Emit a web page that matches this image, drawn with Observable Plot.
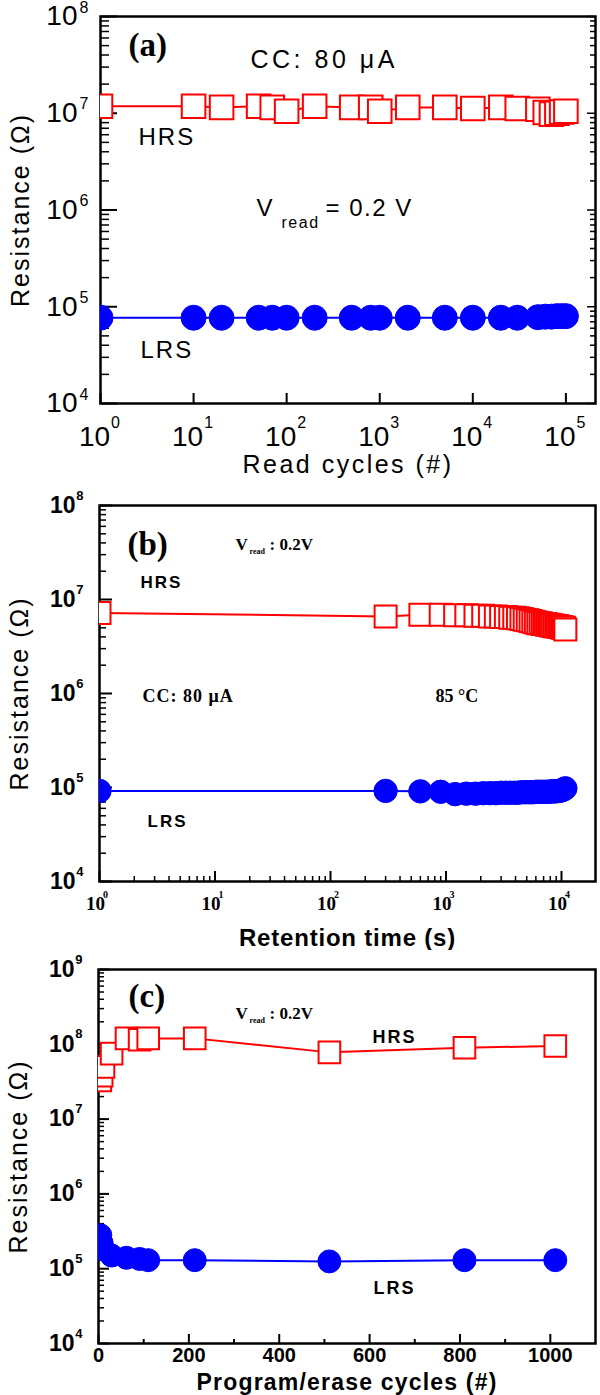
<!DOCTYPE html>
<html>
<head>
<meta charset="utf-8">
<script src="https://cdn.jsdelivr.net/npm/d3@7"></script>
<script src="https://cdn.jsdelivr.net/npm/@observablehq/plot@0.6"></script>
<style>
  html, body { margin: 0; padding: 0; background: #fff; }
  #chart { width: 600px; height: 1395px; overflow: hidden; }
  #chart svg { display: block; }
</style>
</head>
<body>
<div id="chart"></div>
<script>
// ---------------- data ----------------
// (a) read disturb, CC 80 µA, Vread 0.2 V
const readCycles = [1, 10, 20, 50, 70, 100, 200, 500, 800, 1000, 2000, 5000, 10000, 20000, 30000, 50000, 60000, 70000, 80000, 90000, 100000];
const readHRS = [1.18e7, 1.18e7, 1.15e7, 1.18e7, 1.15e7, 1.05e7, 1.18e7, 1.15e7, 1.15e7, 1.05e7, 1.15e7, 1.15e7, 1.12e7, 1.15e7, 1.12e7, 1.1e7, 1.02e7, 9.8e6, 1.0e7, 1.03e7, 1.05e7];
const readLRS = [7.7e4, 7.7e4, 7.7e4, 7.7e4, 7.7e4, 7.7e4, 7.7e4, 7.7e4, 7.7e4, 7.7e4, 7.7e4, 7.7e4, 7.7e4, 7.7e4, 7.7e4, 7.8e4, 7.9e4, 7.9e4, 8.0e4, 8.0e4, 8.0e4];

// (b) retention at 85 °C
const retentionTime = [1, 300, 600, 900, 1200, 1500, 1800, 2100, 2400, 2700, 3000, 3300, 3600, 3900, 4200, 4500, 4800, 5100, 5400, 5700, 6000, 6300, 6600, 6900, 7200, 7500, 7800, 8100, 8400, 8700, 9000, 9300, 9600, 9900, 10200, 10500, 10800];
const retentionHRS = [7.2e6, 6.6e6, 6.9e6, 6.9e6, 6.8e6, 6.8e6, 6.7e6, 6.7e6, 6.6e6, 6.6e6, 6.5e6, 6.5e6, 6.4e6, 6.4e6, 6.3e6, 6.2e6, 6.1e6, 6.0e6, 5.9e6, 5.8e6, 5.7e6, 5.6e6, 5.6e6, 5.5e6, 5.5e6, 5.4e6, 5.4e6, 5.3e6, 5.3e6, 5.2e6, 5.2e6, 5.2e6, 5.1e6, 5.1e6, 5.0e6, 5.0e6, 4.8e6];
const retentionLRS = [9.2e4, 9.2e4, 9.1e4, 9.0e4, 8.5e4, 8.6e4, 8.6e4, 8.7e4, 8.7e4, 8.7e4, 8.8e4, 8.8e4, 8.8e4, 8.8e4, 8.8e4, 8.9e4, 8.9e4, 8.9e4, 8.9e4, 8.9e4, 9.0e4, 9.0e4, 9.0e4, 9.0e4, 9.0e4, 9.0e4, 9.0e4, 9.1e4, 9.1e4, 9.1e4, 9.1e4, 9.2e4, 9.2e4, 9.3e4, 9.4e4, 9.6e4, 9.8e4];

// (c) program/erase endurance
const peCycles = [4, 7, 11, 29, 62, 91, 110, 213, 511, 810, 1011];
const peHRS = [3.3e7, 3.8e7, 5.0e7, 7.5e7, 1.2e8, 1.15e8, 1.2e8, 1.2e8, 7.8e7, 9.0e7, 9.5e7];
const peLRS = [2.8e5, 2.2e5, 1.8e5, 1.5e5, 1.4e5, 1.35e5, 1.3e5, 1.3e5, 1.25e5, 1.3e5, 1.3e5];

// tick labels
const decadesA = [1e4, 1e5, 1e6, 1e7, 1e8];
const readTicks = [1, 10, 100, 1000, 10000, 100000];
const decadesB = [1e4, 1e5, 1e6, 1e7, 1e8];
const retentionTicks = [1, 10, 100, 1000, 10000];
const decadesC = [1e4, 1e5, 1e6, 1e7, 1e8, 1e9];
const peTicks = [0, 200, 400, 600, 800, 1000];
const peMinorTicks = [100, 300, 500, 700, 900];

// ---------------- helpers ----------------
const RED = "#ff0000", BLUE = "#0000ff";
const SANS = "'Liberation Sans', Arial, sans-serif";
const SERIF = "'Liberation Serif', 'Times New Roman', serif";

function minorsOf(decades) {
  const out = [];
  for (let i = 0; i < decades.length - 1; i++) for (let k = 2; k <= 9; k++) out.push(decades[i] * k);
  return out;
}
function spaced(v) {
  return {render(index, scales, values, dims, ctx, next) {
    const g = next(index, scales, values, dims, ctx);
    if (g) g.setAttribute("letter-spacing", v);
    return g;
  }};
}
const rows = (xs, ys) => xs.map((x, i) => ({x, y: ys[i]}));
const expo = d => String(Math.round(Math.log10(d)));
const blank = () => "";

// inward tick marks: the tick points the other way from the side it sits on
const inTicksLeft = (ticks, size, sw) =>
  Plot.axisY({ticks, anchor: "right", frameAnchor: "left", tickSize: size, strokeWidth: sw, tickFormat: blank, label: null});
const inTicksRight = (ticks, size, sw) =>
  Plot.axisY({ticks, anchor: "left", frameAnchor: "right", tickSize: size, strokeWidth: sw, tickFormat: blank, label: null});
const inTicksBottom = (ticks, size, sw) =>
  Plot.axisX({ticks, anchor: "top", frameAnchor: "bottom", tickSize: size, strokeWidth: sw, tickFormat: blank, label: null});

function series(data, color, symbol, r) {
  return [
    Plot.line(data, {x: "x", y: "y", stroke: color, strokeWidth: 2, clip: true}),
    symbol === "square"
      ? Plot.dot(data, {x: "x", y: "y", symbol: "square", r, stroke: color, strokeWidth: 2, fill: "white", clip: true})
      : Plot.dot(data, {x: "x", y: "y", symbol: "circle", r, fill: color, stroke: color, strokeWidth: 1, clip: true})
  ];
}
function yDecadeAxis(decades, o) {
  return [
    inTicksLeft(minorsOf(decades), o.minor, 1.5),
    inTicksLeft(decades, o.major, 2),
    Plot.axisY({ticks: decades, anchor: "left", tickSize: 0, tickPadding: o.pad, tickFormat: () => "10",
      fontSize: o.size, fontWeight: o.weight, fontFamily: o.family, label: null}),
    Plot.axisY({ticks: decades, anchor: "left", tickSize: 0, tickPadding: o.epad, tickFormat: expo, dy: o.edy,
      fontSize: o.esize, fontWeight: o.weight, fontFamily: o.family, label: null})
  ];
}
function xDecadeLabels(ticks, o) {
  return [
    Plot.axisX({ticks, anchor: "bottom", tickSize: 0, tickPadding: o.pad, tickFormat: () => "10", dx: o.dx,
      fontSize: o.size, fontWeight: o.weight, fontFamily: o.family, label: null}),
    Plot.axisX({ticks, anchor: "bottom", tickSize: 0, tickPadding: o.epad, tickFormat: expo, dx: o.edx,
      fontSize: o.esize, fontWeight: o.weight, fontFamily: o.family, label: null})
  ];
}
function note(str, o) {
  return Plot.text([str], {frameAnchor: "top-left", textAnchor: "start", lineAnchor: "middle", fill: "black", ...o});
}
function xTitle(str, o) {
  return Plot.text([str], {frameAnchor: "bottom", textAnchor: "middle", lineAnchor: "middle", fill: "black", ...o});
}
function yTitle() {
  return Plot.text(["Resistance (Ω)"], {frameAnchor: "left", textAnchor: "middle", lineAnchor: "middle", dx: -80, rotate: -90,
    fontSize: 25, fontFamily: SANS, fill: "black", ...spaced(2)});
}

// ---------------- panel (a) ----------------
const plotA = Plot.plot({
  width: 600, height: 480,
  marginTop: 16, marginBottom: 77, marginLeft: 100, marginRight: 5,
  x: {type: "log", domain: [1, 2.08e5]},
  y: {type: "log", domain: [1e4, 1e8]},
  style: {fontFamily: SANS, background: "white", color: "black"},
  marks: [
    ...yDecadeAxis(decadesA, {minor: 8, major: 16, pad: 23, epad: 12, edy: -9, size: 28, esize: 16, weight: "normal", family: SANS}),
    inTicksRight(minorsOf(decadesA), 5, 1.5),
    inTicksRight(decadesA, 8, 1.5),
    inTicksBottom(readTicks, 11, 2),
    ...xDecadeLabels(readTicks, {pad: 23, epad: 13, dx: -6, edx: 15, size: 28, esize: 16, weight: "normal", family: SANS}),
    Plot.frame({stroke: "black", strokeWidth: 2.5}),
    ...series(rows(readCycles, readHRS), RED, "square", 13.3),
    ...series(rows(readCycles, readLRS), BLUE, "circle", 12.5),
    note("(a)", {dx: 28, dy: 29, fontSize: 33, fontWeight: "bold", fontFamily: SERIF}),
    note("CC: 80 μA", {dx: 150, dy: 43, fontSize: 25, fontFamily: SANS, ...spaced(3.5)}),
    note("HRS", {dx: 38, dy: 121, fontSize: 24, fontFamily: SANS, ...spaced(2)}),
    note("V", {dx: 156, dy: 192, fontSize: 24, fontFamily: SANS}),
    note("read", {dx: 181, dy: 206, fontSize: 16, fontFamily: SANS, ...spaced(1.5)}),
    note("= 0.2 V", {dx: 225, dy: 192, fontSize: 24, fontFamily: SANS, ...spaced(1.5)}),
    note("LRS", {dx: 40, dy: 334, fontSize: 24, fontFamily: SANS, ...spaced(2)}),
    xTitle("Read cycles (#)", {dy: 61, fontSize: 25, fontFamily: SANS, ...spaced(2.5)}),
    yTitle()
  ]
});

// ---------------- panel (b) ----------------
const plotB = Plot.plot({
  width: 600, height: 470,
  marginTop: 25, marginBottom: 69, marginLeft: 99, marginRight: 5,
  x: {type: "log", domain: [1, 1.97e4]},
  y: {type: "log", domain: [1e4, 1e8]},
  style: {fontFamily: SANS, background: "white", color: "black"},
  marks: [
    ...yDecadeAxis(decadesB, {minor: 6, major: 12, pad: 24, epad: 16, edy: -10, size: 23, esize: 13, weight: "bold", family: SANS}),
    inTicksBottom(minorsOf(retentionTicks), 6, 1.5),
    inTicksBottom(retentionTicks, 11, 2),
    ...xDecadeLabels(retentionTicks, {pad: 15, epad: 9, dx: -4, edx: 6, size: 19, esize: 10, weight: "bold", family: SERIF}),
    Plot.frame({stroke: "black", strokeWidth: 2.5}),
    ...series(rows(retentionTime, retentionHRS), RED, "square", 12.4),
    ...series(rows(retentionTime, retentionLRS), BLUE, "circle", 11.7),
    note("(b)", {dx: 28, dy: 39, fontSize: 33, fontWeight: "bold", fontFamily: SERIF}),
    note("V", {dx: 136, dy: 39, fontSize: 17, fontWeight: "bold", fontFamily: SERIF}),
    note("read", {dx: 150, dy: 46, fontSize: 8, fontWeight: "bold", fontFamily: SERIF}),
    note(": 0.2V", {dx: 170, dy: 39, fontSize: 17, fontWeight: "bold", fontFamily: SERIF}),
    note("HRS", {dx: 41, dy: 77, fontSize: 17, fontWeight: "bold", fontFamily: SANS, ...spaced(2)}),
    note("CC: 80 μA", {dx: 43, dy: 191, fontSize: 18, fontWeight: "bold", fontFamily: SERIF, ...spaced(1)}),
    note("85 °C", {dx: 336, dy: 191, fontSize: 18, fontWeight: "bold", fontFamily: SERIF}),
    note("LRS", {dx: 48, dy: 316, fontSize: 17, fontWeight: "bold", fontFamily: SANS, ...spaced(2)}),
    xTitle("Retention time (s)", {dy: 57, fontSize: 24, fontWeight: "bold", fontFamily: SANS, ...spaced(0.8)}),
    yTitle()
  ]
});

// ---------------- panel (c) ----------------
const plotC = Plot.plot({
  width: 600, height: 445,
  marginTop: 19, marginBottom: 52, marginLeft: 98, marginRight: 5,
  x: {type: "linear", domain: [0, 1100]},
  y: {type: "log", domain: [1e4, 1e9]},
  style: {fontFamily: SANS, background: "white", color: "black"},
  marks: [
    ...yDecadeAxis(decadesC, {minor: 5, major: 10, pad: 24, epad: 16, edy: -10, size: 23, esize: 13, weight: "bold", family: SANS}),
    inTicksBottom(peMinorTicks, 5, 2),
    inTicksBottom(peTicks, 10, 2),
    Plot.axisX({ticks: peTicks, anchor: "bottom", tickSize: 0, tickPadding: 4, tickFormat: d => String(d),
      fontSize: 20, fontWeight: "bold", fontFamily: SANS, label: null}),
    Plot.frame({stroke: "black", strokeWidth: 2.5}),
    ...series(rows(peCycles, peHRS), RED, "square", 12.2),
    ...series(rows(peCycles, peLRS), BLUE, "circle", 11.5),
    note("(c)", {dx: 30, dy: 27, fontSize: 33, fontWeight: "bold", fontFamily: SERIF}),
    note("V", {dx: 137, dy: 44, fontSize: 17, fontWeight: "bold", fontFamily: SERIF}),
    note("read", {dx: 151, dy: 51, fontSize: 8, fontWeight: "bold", fontFamily: SERIF}),
    note(": 0.2V", {dx: 171, dy: 44, fontSize: 17, fontWeight: "bold", fontFamily: SERIF}),
    note("HRS", {dx: 274, dy: 68, fontSize: 18, fontWeight: "bold", fontFamily: SANS, ...spaced(2)}),
    note("LRS", {dx: 275, dy: 319, fontSize: 18, fontWeight: "bold", fontFamily: SANS, ...spaced(2)}),
    xTitle("Program/erase cycles (#)", {dy: 39, fontSize: 23, fontWeight: "bold", fontFamily: SANS, ...spaced(1.2)}),
    yTitle()
  ]
});

const root = document.getElementById("chart");
root.append(plotA, plotB, plotC);
</script>
</body>
</html>
